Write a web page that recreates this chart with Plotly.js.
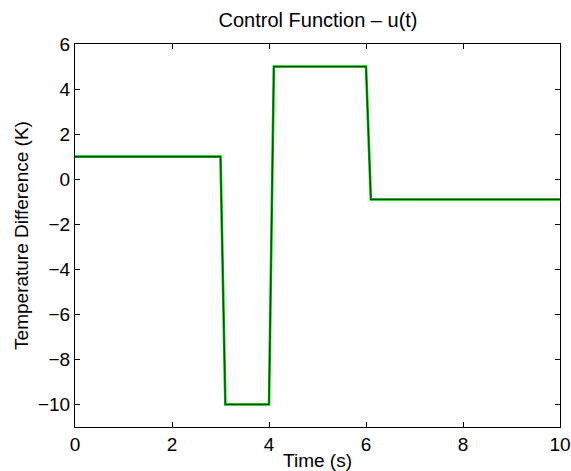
<!DOCTYPE html>
<html><head><meta charset="utf-8">
<script src="https://cdn.plot.ly/plotly-3.0.1.min.js"></script>
<style>body{margin:0;background:#fff}#chart{width:571px;height:471px}</style>
</head><body><div id="chart"></div>
<script>
const timeS = [0, 3, 3.1, 4, 4.1, 6, 6.1, 10];
const tempDiffK = [1, 1, -10, -10, 5, 5, -0.9, -0.9];
const xTicks = [0, 2, 4, 6, 8, 10];
const yTicks = [-10, -8, -6, -4, -2, 0, 2, 4, 6];

const font = {family: 'Liberation Sans, Arial, sans-serif', size: 19, color: '#000'};
const axisCommon = {
  showgrid: false, zeroline: false, showline: true, linecolor: '#000', linewidth: 1,
  mirror: 'ticks', ticks: 'inside', ticklen: 5, tickcolor: '#000', tickwidth: 1,
  tickfont: font
};
Plotly.newPlot('chart', [
  {x: timeS, y: tempDiffK, mode: 'lines', line: {color: '#00c000', width: 2.6}, hoverinfo: 'none'},
  {x: timeS, y: tempDiffK, mode: 'lines', line: {color: '#005000', width: 1.2}, hoverinfo: 'none'}
], {
  width: 571, height: 471,
  margin: {l: 75, r: 11, t: 44, b: 44},
  paper_bgcolor: '#fff', plot_bgcolor: '#fff',
  showlegend: false,
  font: font,
  title: {text: 'Control Function \u2013 u(t)', font: {family: font.family, size: 20, color: '#000'}, x: 0.557, xanchor: 'center', y: 0.957, yanchor: 'middle'},
  xaxis: Object.assign({}, axisCommon, {range: [0, 10], tickvals: xTicks, ticktext: xTicks.map(String),
    title: {text: 'Time (s)', font: font, standoff: 0}}),
  yaxis: Object.assign({}, axisCommon, {range: [-11, 6], tickvals: yTicks,
    title: {text: 'Temperature Difference (K)', font: font, standoff: 4}})
}, {displayModeBar: false, staticPlot: true});
</script></body></html>
